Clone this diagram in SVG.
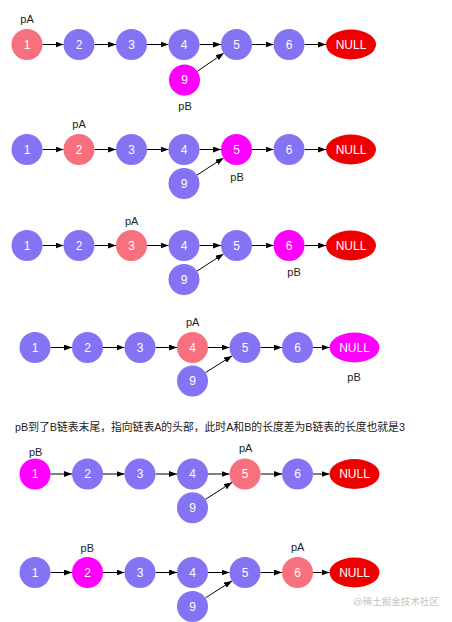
<svg xmlns="http://www.w3.org/2000/svg" width="452" height="622" viewBox="0 0 452 622">
<style>
.p{fill:#8474f4}.s{fill:#f7707d}.m{fill:#ff00ff}.r{fill:#ee0000}
.t{font-family:"Liberation Sans",Arial,sans-serif;font-size:12px;fill:#fff;text-anchor:middle}
.l{font-family:"Liberation Sans",Arial,sans-serif;font-size:11px;fill:#222;text-anchor:middle}
.c{font-family:"Liberation Sans","Noto Sans CJK SC",sans-serif;font-size:10.8px;fill:#222}
.w{font-family:"Liberation Sans","Noto Sans CJK SC",sans-serif;font-size:9.5px;fill:#c4c4c4}
.e line{stroke:#000;stroke-width:1;marker-end:url(#a)}
</style>
<defs><marker id="a" markerUnits="userSpaceOnUse" markerWidth="8" markerHeight="6" refX="8" refY="3" orient="auto"><path d="M0,0 L8,3 L0,6 z" fill="#000"/></marker></defs>
<rect width="452" height="622" fill="#fff"/>
<g id="connectors" class="e">
<line x1="42.5" y1="44.5" x2="63.5" y2="44.5"/><line x1="94.5" y1="44.5" x2="116" y2="44.5"/><line x1="147" y1="44.5" x2="168.5" y2="44.5"/><line x1="199.5" y1="44.5" x2="221" y2="44.5"/><line x1="252" y1="44.5" x2="273.5" y2="44.5"/><line x1="304.5" y1="44.5" x2="326" y2="44.5"/><line x1="197.3" y1="71.3" x2="223.7" y2="53.2"/>
<line x1="42.5" y1="149.5" x2="63.5" y2="149.5"/><line x1="94.5" y1="149.5" x2="116" y2="149.5"/><line x1="147" y1="149.5" x2="168.5" y2="149.5"/><line x1="199.5" y1="149.5" x2="221" y2="149.5"/><line x1="252" y1="149.5" x2="273.5" y2="149.5"/><line x1="304.5" y1="149.5" x2="326" y2="149.5"/><line x1="197" y1="175.1" x2="223.5" y2="157.9"/>
<line x1="42.5" y1="245.5" x2="63.5" y2="245.5"/><line x1="94.5" y1="245.5" x2="116" y2="245.5"/><line x1="147" y1="245.5" x2="168.5" y2="245.5"/><line x1="199.5" y1="245.5" x2="221" y2="245.5"/><line x1="252" y1="245.5" x2="273.5" y2="245.5"/><line x1="304.5" y1="245.5" x2="326" y2="245.5"/><line x1="197" y1="271.1" x2="223.5" y2="253.9"/>
<line x1="50.5" y1="347.5" x2="72" y2="347.5"/><line x1="103" y1="347.5" x2="124.5" y2="347.5"/><line x1="155.5" y1="347.5" x2="177" y2="347.5"/><line x1="208" y1="347.5" x2="229.5" y2="347.5"/><line x1="260.5" y1="347.5" x2="282" y2="347.5"/><line x1="313" y1="347.5" x2="329.5" y2="347.5"/><line x1="205.5" y1="372.6" x2="232" y2="355.9"/>
<line x1="50.5" y1="474" x2="72" y2="474"/><line x1="103" y1="474" x2="124.5" y2="474"/><line x1="155.5" y1="474" x2="177" y2="474"/><line x1="208" y1="474" x2="229.5" y2="474"/><line x1="260.5" y1="474" x2="282" y2="474"/><line x1="313" y1="474" x2="329.5" y2="474"/><line x1="205.5" y1="499.3" x2="232" y2="482.4"/>
<line x1="50.5" y1="572.5" x2="72" y2="572.5"/><line x1="103" y1="572.5" x2="124.5" y2="572.5"/><line x1="155.5" y1="572.5" x2="177" y2="572.5"/><line x1="208" y1="572.5" x2="229.5" y2="572.5"/><line x1="260.5" y1="572.5" x2="282" y2="572.5"/><line x1="313" y1="572.5" x2="329.5" y2="572.5"/><line x1="205.5" y1="597.9" x2="232" y2="580.9"/>
</g>
<!-- row 1 -->
<g id="r1n1"><circle class="s" cx="27" cy="44.5" r="15.5"/><text class="t" x="27" y="48.7">1</text></g>
<g id="r1n2"><circle class="p" cx="79" cy="44.5" r="15.5"/><text class="t" x="79" y="48.7">2</text></g>
<g id="r1n3"><circle class="p" cx="131.5" cy="44.5" r="15.5"/><text class="t" x="131.5" y="48.7">3</text></g>
<g id="r1n4"><circle class="p" cx="184" cy="44.5" r="15.5"/><text class="t" x="184" y="48.7">4</text></g>
<g id="r1n5"><circle class="p" cx="236.5" cy="44.5" r="15.5"/><text class="t" x="236.5" y="48.7">5</text></g>
<g id="r1n6"><circle class="p" cx="289" cy="44.5" r="15.5"/><text class="t" x="289" y="48.7">6</text></g>
<g id="r1null"><ellipse class="r" cx="351" cy="44.5" rx="25" ry="15"/><text class="t" x="351" y="48.7">NULL</text></g>
<g id="r1n9"><circle class="m" cx="184.5" cy="80" r="15.5"/><text class="t" x="184.5" y="84.2">9</text></g>
<text class="l" x="27" y="23">pA</text><text class="l" x="185" y="110">pB</text>
<!-- row 2 -->
<g id="r2n1"><circle class="p" cx="27" cy="149.5" r="15.5"/><text class="t" x="27" y="153.7">1</text></g>
<g id="r2n2"><circle class="s" cx="79" cy="149.5" r="15.5"/><text class="t" x="79" y="153.7">2</text></g>
<g id="r2n3"><circle class="p" cx="131.5" cy="149.5" r="15.5"/><text class="t" x="131.5" y="153.7">3</text></g>
<g id="r2n4"><circle class="p" cx="184" cy="149.5" r="15.5"/><text class="t" x="184" y="153.7">4</text></g>
<g id="r2n5"><circle class="m" cx="236.5" cy="149.5" r="15.5"/><text class="t" x="236.5" y="153.7">5</text></g>
<g id="r2n6"><circle class="p" cx="289" cy="149.5" r="15.5"/><text class="t" x="289" y="153.7">6</text></g>
<g id="r2null"><ellipse class="r" cx="351" cy="149.5" rx="25" ry="15"/><text class="t" x="351" y="153.7">NULL</text></g>
<g id="r2n9"><circle class="p" cx="184" cy="183.5" r="15.5"/><text class="t" x="184" y="187.7">9</text></g>
<text class="l" x="79" y="128">pA</text><text class="l" x="237" y="181.3">pB</text>
<!-- row 3 -->
<g id="r3n1"><circle class="p" cx="27" cy="245.5" r="15.5"/><text class="t" x="27" y="249.7">1</text></g>
<g id="r3n2"><circle class="p" cx="79" cy="245.5" r="15.5"/><text class="t" x="79" y="249.7">2</text></g>
<g id="r3n3"><circle class="s" cx="131.5" cy="245.5" r="15.5"/><text class="t" x="131.5" y="249.7">3</text></g>
<g id="r3n4"><circle class="p" cx="184" cy="245.5" r="15.5"/><text class="t" x="184" y="249.7">4</text></g>
<g id="r3n5"><circle class="p" cx="236.5" cy="245.5" r="15.5"/><text class="t" x="236.5" y="249.7">5</text></g>
<g id="r3n6"><circle class="m" cx="289" cy="245.5" r="15.5"/><text class="t" x="289" y="249.7">6</text></g>
<g id="r3null"><ellipse class="r" cx="351" cy="245.5" rx="25" ry="15"/><text class="t" x="351" y="249.7">NULL</text></g>
<g id="r3n9"><circle class="p" cx="184" cy="279.5" r="15.5"/><text class="t" x="184" y="283.7">9</text></g>
<text class="l" x="131.7" y="224.7">pA</text><text class="l" x="294" y="276.3">pB</text>
<!-- row 4 -->
<g id="r4n1"><circle class="p" cx="35" cy="347.5" r="15.5"/><text class="t" x="35" y="351.7">1</text></g>
<g id="r4n2"><circle class="p" cx="87.5" cy="347.5" r="15.5"/><text class="t" x="87.5" y="351.7">2</text></g>
<g id="r4n3"><circle class="p" cx="140" cy="347.5" r="15.5"/><text class="t" x="140" y="351.7">3</text></g>
<g id="r4n4"><circle class="s" cx="192.5" cy="347.5" r="15.5"/><text class="t" x="192.5" y="351.7">4</text></g>
<g id="r4n5"><circle class="p" cx="245" cy="347.5" r="15.5"/><text class="t" x="245" y="351.7">5</text></g>
<g id="r4n6"><circle class="p" cx="297.5" cy="347.5" r="15.5"/><text class="t" x="297.5" y="351.7">6</text></g>
<g id="r4null"><ellipse class="m" cx="354.5" cy="347.5" rx="25" ry="15"/><text class="t" x="354.5" y="351.7">NULL</text></g>
<g id="r4n9"><circle class="p" cx="192.5" cy="381" r="15.5"/><text class="t" x="192.5" y="385.2">9</text></g>
<text class="l" x="192.7" y="325.7">pA</text><text class="l" x="354" y="381.3">pB</text>
<text id="note" class="c" x="15" y="431">pB到了B链表末尾，指向链表A的头部，此时A和B的长度差为B链表的长度也就是3</text>
<!-- row 5 -->
<g id="r5n1"><circle class="m" cx="35" cy="474" r="15.5"/><text class="t" x="35" y="478.2">1</text></g>
<g id="r5n2"><circle class="p" cx="87.5" cy="474" r="15.5"/><text class="t" x="87.5" y="478.2">2</text></g>
<g id="r5n3"><circle class="p" cx="140" cy="474" r="15.5"/><text class="t" x="140" y="478.2">3</text></g>
<g id="r5n4"><circle class="p" cx="192.5" cy="474" r="15.5"/><text class="t" x="192.5" y="478.2">4</text></g>
<g id="r5n5"><circle class="s" cx="245" cy="474" r="15.5"/><text class="t" x="245" y="478.2">5</text></g>
<g id="r5n6"><circle class="p" cx="297.5" cy="474" r="15.5"/><text class="t" x="297.5" y="478.2">6</text></g>
<g id="r5null"><ellipse class="r" cx="354.5" cy="474" rx="25" ry="15"/><text class="t" x="354.5" y="478.2">NULL</text></g>
<g id="r5n9"><circle class="p" cx="192.5" cy="507.7" r="15.5"/><text class="t" x="192.5" y="511.9">9</text></g>
<text class="l" x="35.7" y="455.7">pB</text><text class="l" x="245.7" y="452.3">pA</text>
<!-- row 6 -->
<g id="r6n1"><circle class="p" cx="35" cy="572.5" r="15.5"/><text class="t" x="35" y="576.7">1</text></g>
<g id="r6n2"><circle class="m" cx="87.5" cy="572.5" r="15.5"/><text class="t" x="87.5" y="576.7">2</text></g>
<g id="r6n3"><circle class="p" cx="140" cy="572.5" r="15.5"/><text class="t" x="140" y="576.7">3</text></g>
<g id="r6n4"><circle class="p" cx="192.5" cy="572.5" r="15.5"/><text class="t" x="192.5" y="576.7">4</text></g>
<g id="r6n5"><circle class="p" cx="245" cy="572.5" r="15.5"/><text class="t" x="245" y="576.7">5</text></g>
<g id="r6n6"><circle class="s" cx="297.5" cy="572.5" r="15.5"/><text class="t" x="297.5" y="576.7">6</text></g>
<g id="r6null"><ellipse class="r" cx="354.5" cy="572.5" rx="25" ry="15"/><text class="t" x="354.5" y="576.7">NULL</text></g>
<g id="r6n9"><circle class="p" cx="192.5" cy="606.5" r="15.5"/><text class="t" x="192.5" y="610.7">9</text></g>
<text class="l" x="87.3" y="551.7">pB</text><text class="l" x="297.7" y="551.3">pA</text>
<text class="w" x="353" y="605">@稀土掘金技术社区</text>
</svg>
